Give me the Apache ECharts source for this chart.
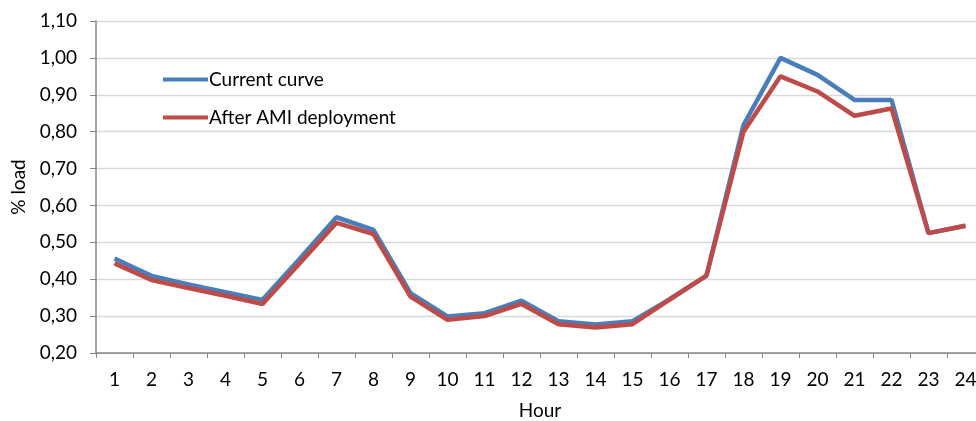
<!DOCTYPE html>
<html><head><meta charset="utf-8">
<script src="https://cdn.jsdelivr.net/npm/echarts@6/dist/echarts.min.js"></script>
<style>html,body{margin:0;padding:0;background:#fff}#c{width:976px;height:421px}</style>
</head><body><div id="c"></div>
<script>
const hours = ['1','2','3','4','5','6','7','8','9','10','11','12','13','14','15','16','17','18','19','20','21','22','23','24'];
const currentCurve = [0.456,0.409,0.386,0.365,0.344,0.455,0.568,0.534,0.362,0.299,0.308,0.342,0.286,0.277,0.286,0.345,0.410,0.818,1.000,0.954,0.886,0.886,0.525,0.545];
const afterAMI = [0.443,0.398,0.376,0.355,0.333,0.443,0.553,0.522,0.353,0.290,0.300,0.333,0.278,0.269,0.278,0.345,0.410,0.800,0.950,0.909,0.843,0.863,0.525,0.545];
const seriesNames = ['Current curve','After AMI deployment'];
const colors = ['#4A7EBB','#BE4B48'];
const font = 'Lato';
const fs = 19;
const chart = echarts.init(document.getElementById('c'));
chart.setOption({
  animation:false,
  textStyle:{fontFamily:font,fontSize:fs},
  grid:{left:96,top:21,width:888,height:332,containLabel:false,outerBoundsMode:'none'},
  legend:{orient:'vertical',left:158,top:65,itemWidth:45,itemHeight:4,itemGap:19,
    icon:'rect',
    textStyle:{fontFamily:font,fontSize:fs,color:'#000',padding:[0,0,0,-4]},
    data:seriesNames},
  xAxis:{type:'category',data:hours,boundaryGap:true,
    name:'Hour',nameLocation:'middle',nameGap:48,
    nameTextStyle:{fontFamily:font,fontSize:fs,color:'#000'},
    axisLine:{lineStyle:{color:'#868686',width:1.5}},
    axisTick:{show:true,length:5,lineStyle:{color:'#868686'}},
    axisLabel:{fontFamily:font,fontSize:fs,color:'#000',margin:17}},
  yAxis:{type:'value',min:0.2,max:1.1,interval:0.1,
    name:'% load',nameLocation:'middle',nameGap:67,nameRotate:90,
    nameTextStyle:{fontFamily:font,fontSize:fs,color:'#000'},
    axisLine:{show:true,lineStyle:{color:'#868686',width:1.5}},
    axisTick:{show:true,length:6,lineStyle:{color:'#868686'}},
    splitLine:{lineStyle:{color:'#d9d9d9',width:1.3}},
    axisLabel:{fontFamily:font,fontSize:fs,color:'#000',margin:19,
      formatter:v=>v.toFixed(2).replace('.',',')}},
  series:[
    {name:seriesNames[0],type:'line',data:currentCurve,showSymbol:false,symbol:'none',
      lineStyle:{color:colors[0],width:4.5},itemStyle:{color:colors[0]}},
    {name:seriesNames[1],type:'line',data:afterAMI,showSymbol:false,symbol:'none',
      lineStyle:{color:colors[1],width:4.5},itemStyle:{color:colors[1]}}
  ]
});
</script></body></html>
